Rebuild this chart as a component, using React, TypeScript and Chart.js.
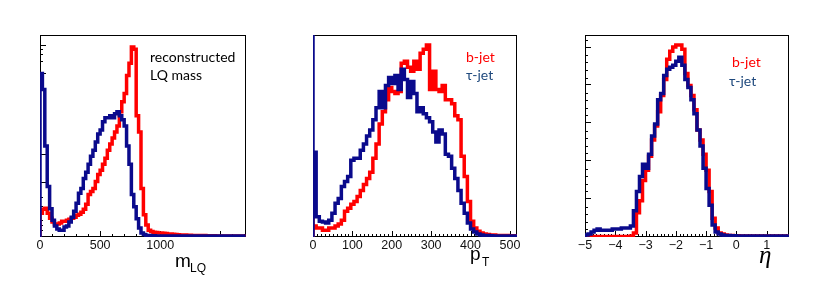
import React, { useEffect, useRef } from 'react';
import { Chart, registerables } from 'chart.js';

Chart.register(...registerables);

// ---------- data ----------
// reconstructed LQ mass, bins of 20 starting at 0
const massStart = 0;
const massBinWidth = 20;
const massRed = [
  0.044, 0.118, 0.137, 0.142, 0.118, 0.093, 0.074, 0.064, 0.064, 0.069,
  0.078, 0.078, 0.083, 0.088, 0.093, 0.098, 0.108, 0.113, 0.123, 0.137,
  0.162, 0.21, 0.225, 0.24, 0.275, 0.31, 0.33, 0.36, 0.39, 0.43,
  0.46, 0.49, 0.52, 0.55, 0.62, 0.67, 0.71, 0.8, 0.86, 0.94,
  0.93, 0.6, 0.52, 0.24, 0.11, 0.06, 0.034, 0.027, 0.024, 0.022,
  0.02, 0.02, 0.018, 0.017, 0.015, 0.015, 0.013, 0.012, 0.011, 0.01,
  0.01, 0.01, 0.009, 0.009, 0.008, 0.008, 0.008, 0.007, 0.007, 0.007,
  0.006, 0.006, 0.006, 0.006, 0.005, 0.005, 0.005, 0.005, 0.005, 0.005,
  0.005, 0.005, 0.005, 0.005, 0.005, 0.005,
];
const massBlue = [
  0.81, 0.81, 0.73, 0.45, 0.25, 0.14, 0.083, 0.054, 0.04, 0.034,
  0.034, 0.049, 0.054, 0.074, 0.098, 0.127, 0.167, 0.216, 0.24, 0.29,
  0.32, 0.36, 0.4, 0.43, 0.47, 0.51, 0.53, 0.57, 0.59, 0.59,
  0.6, 0.59, 0.61, 0.62, 0.6, 0.58, 0.55, 0.45, 0.36, 0.21,
  0.15, 0.09, 0.044, 0.02, 0.012, 0.008, 0.007, 0.006, 0.006, 0.005,
  0.005, 0.005, 0.005, 0.005, 0.005, 0.005, 0.005, 0.005, 0.005, 0.005,
  0.005, 0.005, 0.005, 0.005, 0.005, 0.005, 0.005, 0.005, 0.005, 0.005,
  0.005, 0.005, 0.005, 0.005, 0.005, 0.005, 0.005, 0.005, 0.005, 0.005,
  0.005, 0.005, 0.005, 0.005, 0.005, 0.005,
];
const massTickLabels = [0, 500, 1000];
const massMajorTicks = [0, 500, 1000, 1500];
const massMinorTicks = [100, 200, 300, 400, 600, 700, 800, 900, 1100, 1200, 1300, 1400, 1600, 1700];
const massYMajor = [0.27, 0.41, 0.81, 0.95];
const massYMinor = [0.035, 0.06, 0.085, 0.12, 0.155, 0.2, 0.87, 0.905, 0.93];

// pT, bins of 8 starting at 0
const ptStart = 0;
const ptBinWidth = 8;
const ptRed = [
  0.42, 0.054, 0.044, 0.044, 0.034, 0.034, 0.044, 0.044, 0.054, 0.064,
  0.083, 0.127, 0.142, 0.162, 0.176, 0.2, 0.23, 0.26, 0.29, 0.32,
  0.39, 0.46, 0.56, 0.62, 0.68, 0.74, 0.72, 0.71, 0.72, 0.86,
  0.87, 0.84, 0.82, 0.87, 0.83, 0.91, 0.93, 0.95, 0.73, 0.82,
  0.73, 0.72, 0.75, 0.68, 0.68, 0.66, 0.6, 0.58, 0.4, 0.3,
  0.176, 0.078, 0.044, 0.029, 0.02, 0.015, 0.012, 0.01, 0.01, 0.008,
  0.008, 0.007, 0.007, 0.006, 0.006,
];
const ptBlue = [
  1.5, 0.42, 0.1, 0.078, 0.074, 0.069, 0.083, 0.118, 0.167, 0.19,
  0.25, 0.275, 0.3, 0.38, 0.39, 0.39, 0.43, 0.46, 0.5, 0.53,
  0.58, 0.64, 0.72, 0.64, 0.75, 0.79, 0.76, 0.8, 0.73, 0.83,
  0.78, 0.69, 0.77, 0.71, 0.62, 0.64, 0.61, 0.59, 0.57, 0.52,
  0.47, 0.53, 0.51, 0.41, 0.4, 0.34, 0.29, 0.23, 0.167, 0.118,
  0.069, 0.039, 0.025, 0.015, 0.01, 0.008, 0.007, 0.006, 0.005, 0.005,
  0.005, 0.005, 0.005, 0.005, 0.005,
];
const ptTickLabels = [0, 100, 200, 300, 400, 500];
const ptMajorTicks = [0, 100, 200, 300, 400, 500];
const ptMinorTicks = [
  10, 20, 30, 40, 50, 60, 70, 80, 90, 110, 120, 130, 140, 150, 160, 170, 180, 190,
  210, 220, 230, 240, 250, 260, 270, 280, 290, 310, 320, 330, 340, 350, 360, 370, 380, 390,
  410, 420, 430, 440, 450, 460, 470, 480, 490, 510,
];

// eta, bins of 0.1 starting at -5
const etaStart = -5;
const etaBinWidth = 0.1;
const etaRed = [
  0.003, 0.003, 0.003, 0.003, 0.003, 0.003, 0.003, 0.003, 0.003, 0.003,
  0.003, 0.003, 0.003, 0.003, 0.003, 0.003, 0.005, 0.02, 0.12, 0.18,
  0.28, 0.33, 0.4, 0.48, 0.55, 0.62, 0.7, 0.78, 0.88, 0.92,
  0.94, 0.95, 0.95, 0.93, 0.81, 0.75, 0.7, 0.63, 0.53, 0.48,
  0.41, 0.33, 0.225, 0.093, 0.044, 0.02, 0.015, 0.01, 0.008, 0.007,
  0.006, 0.006, 0.005, 0.005, 0.005, 0.005, 0.005, 0.005, 0.005, 0.005,
  0.005, 0.005, 0.005, 0.005, 0.005, 0.005, 0.005, 0.005,
];
const etaBlue = [
  0.005, 0.01, 0.015, 0.025, 0.034, 0.039, 0.034, 0.034, 0.034, 0.034,
  0.039, 0.039, 0.039, 0.044, 0.044, 0.044, 0.054, 0.13, 0.225, 0.3,
  0.36, 0.34, 0.41, 0.5, 0.56, 0.68, 0.71, 0.8, 0.83, 0.84,
  0.85, 0.87, 0.89, 0.85, 0.78, 0.74, 0.68, 0.61, 0.53, 0.45,
  0.34, 0.24, 0.157, 0.059, 0.025, 0.015, 0.01, 0.008, 0.007, 0.006,
  0.006, 0.005, 0.005, 0.005, 0.005, 0.005, 0.005, 0.005, 0.005, 0.005,
  0.005, 0.005, 0.005, 0.005, 0.005, 0.005, 0.005, 0.005,
];
const etaTickLabels = [-5, -4, -3, -2, -1, 0, 1];
const etaMajorTicks = [-5, -4, -3, -2, -1, 0, 1];
const etaMinorStep = 0.125;
const etaYMajor = [0.191, 0.379, 0.567, 0.755, 0.943];
const etaYMinorStep = 0.0376;

// ---------- styles ----------
const RED = '#ff0000';
const BLUE = '#0a0a8c';
const TAU_TEXT = '#1f497d';
const NOTE_FONT = "14px Lato, 'Open Sans', sans-serif";
const LINE_W = 3.5;

type Note = { text: string; x: number; y: number; color: string };
type Panel = {
  left: number;
  width: number;
  padLeft: number;
  padRight: number;
  xMin: number;
  xMax: number;
  start: number;
  binWidth: number;
  red: number[];
  blue: number[];
  labels: number[];
  majorX: number[];
  minorX: number[];
  majorY: number[];
  minorY: number[];
  notes: Note[];
  title: (ctx: CanvasRenderingContext2D, ox: number) => void;
};

function steps(start: number, width: number, values: number[]) {
  const pts = [{ x: start, y: 0 }];
  values.forEach((v, i) => pts.push({ x: start + i * width, y: v }));
  pts.push({ x: start + values.length * width, y: values[values.length - 1] });
  return pts;
}

function range(from: number, to: number, step: number) {
  const out: number[] = [];
  for (let v = from; v <= to + 1e-9; v += step) out.push(+v.toFixed(4));
  return out;
}

const etaMinorX = range(-5, 1.75, etaMinorStep).filter((v) => Math.abs(v - Math.round(v)) > 1e-6);
const etaMinorY = range(etaYMinorStep, 0.98, etaYMinorStep).filter(
  (v) => !etaYMajor.some((m) => Math.abs(m - v) < 0.01)
);

const panels: Panel[] = [
  {
    left: 0, width: 280, padLeft: 40, padRight: 34.4,
    xMin: 0, xMax: 1710, start: massStart, binWidth: massBinWidth,
    red: massRed, blue: massBlue, labels: massTickLabels,
    majorX: massMajorTicks, minorX: massMinorTicks, majorY: massYMajor, minorY: massYMinor,
    notes: [
      { text: 'reconstructed', x: 150, y: 61.5, color: '#000' },
      { text: 'LQ mass', x: 150, y: 79.5, color: '#000' },
    ],
    title: (ctx, ox) => {
      ctx.fillStyle = '#000';
      ctx.font = "19px 'Liberation Sans', Arial, sans-serif";
      ctx.fillText('m', 175 - ox, 266.5);
      ctx.font = "12px 'Liberation Sans', Arial, sans-serif";
      ctx.fillText('LQ', 190 - ox, 271.5);
    },
  },
  {
    left: 280, width: 280, padLeft: 33, padRight: 43,
    xMin: 0, xMax: 518, start: ptStart, binWidth: ptBinWidth,
    red: ptRed, blue: ptBlue, labels: ptTickLabels,
    majorX: ptMajorTicks, minorX: ptMinorTicks, majorY: [], minorY: [],
    notes: [
      { text: 'b-jet', x: 466, y: 61.5, color: RED },
      { text: '\u03c4-jet', x: 466, y: 80, color: TAU_TEXT },
    ],
    title: (ctx, ox) => {
      ctx.fillStyle = '#000';
      ctx.font = "19px 'Liberation Sans', Arial, sans-serif";
      ctx.fillText('p', 470 - ox, 260);
      ctx.font = "12px 'Liberation Sans', Arial, sans-serif";
      ctx.fillText('T', 482 - ox, 266);
    },
  },
  {
    left: 560, width: 270, padLeft: 25, padRight: 41,
    xMin: -5, xMax: 1.74, start: etaStart, binWidth: etaBinWidth,
    red: etaRed, blue: etaBlue, labels: etaTickLabels,
    majorX: etaMajorTicks, minorX: etaMinorX, majorY: etaYMajor, minorY: etaMinorY,
    notes: [
      { text: 'b-jet', x: 732, y: 67, color: RED },
      { text: '\u03c4-jet', x: 729, y: 86, color: TAU_TEXT },
    ],
    title: (ctx, ox) => {
      ctx.fillStyle = '#000';
      ctx.font = "italic 25px 'Liberation Serif', 'DejaVu Serif', serif";
      ctx.fillText('\u03b7', 759 - ox, 263);
    },
  },
];

function makeFramePlugin(p: Panel) {
  return {
    id: 'rootFrame',
    beforeDatasetsDraw(chart: any) {
      const { ctx, chartArea } = chart;
      const xs = chart.scales.x;
      const ys = chart.scales.y;
      const { left, right, top, bottom } = chartArea;
      ctx.save();
      ctx.strokeStyle = '#000';
      ctx.lineWidth = 1;
      ctx.beginPath();
      const tick = (x1: number, y1: number, x2: number, y2: number) => {
        ctx.moveTo(x1, y1);
        ctx.lineTo(x2, y2);
      };
      p.majorX.forEach((v) => {
        const x = Math.round(xs.getPixelForValue(v)) + 0.5;
        if (x > left && x < right) tick(x, bottom, x, bottom - 6);
      });
      p.minorX.forEach((v) => {
        const x = Math.round(xs.getPixelForValue(v)) + 0.5;
        if (x > left && x < right) tick(x, bottom, x, bottom - 3);
      });
      p.majorY.forEach((v) => {
        const y = Math.round(ys.getPixelForValue(v)) + 0.5;
        tick(left, y, left + 6, y);
      });
      p.minorY.forEach((v) => {
        const y = Math.round(ys.getPixelForValue(v)) + 0.5;
        tick(left, y, left + 3, y);
      });
      ctx.stroke();
      ctx.strokeRect(Math.round(left) + 0.5, Math.round(top) + 0.5, Math.round(right - left) - 1, Math.round(bottom - top) - 1);
      ctx.restore();
    },
    afterDraw(chart: any) {
      const { ctx } = chart;
      ctx.save();
      ctx.textBaseline = 'alphabetic';
      ctx.textAlign = 'left';
      ctx.font = NOTE_FONT;
      p.notes.forEach((n) => {
        ctx.fillStyle = n.color;
        ctx.fillText(n.text, n.x - p.left, n.y);
      });
      p.title(ctx, p.left);
      ctx.restore();
    },
  };
}

function fmt(v: number) {
  return v < 0 ? '\u2212' + Math.abs(v) : String(v);
}

function PanelChart({ p }: { p: Panel }) {
  const ref = useRef<HTMLCanvasElement>(null);
  useEffect(() => {
    if (!ref.current) return;
    const chart = new Chart(ref.current, {
      type: 'line',
      data: {
        datasets: [
          {
            label: 'tau-jet',
            data: steps(p.start, p.binWidth, p.blue),
            borderColor: BLUE,
            borderWidth: LINE_W,
            pointRadius: 0,
            stepped: 'after',
            fill: false,
            clip: 0,
          } as any,
          {
            label: 'b-jet',
            data: steps(p.start, p.binWidth, p.red),
            borderColor: RED,
            borderWidth: LINE_W,
            pointRadius: 0,
            stepped: 'after',
            fill: false,
            clip: 0,
          } as any,
        ],
      },
      options: {
        animation: false,
        responsive: false,
        maintainAspectRatio: false,
        events: [],
        parsing: false,
        layout: { padding: { left: p.padLeft, right: p.padRight, top: 35, bottom: 40 } },
        plugins: { legend: { display: false }, tooltip: { enabled: false }, title: { display: false } },
        scales: {
          x: {
            type: 'linear',
            min: p.xMin,
            max: p.xMax,
            grid: { display: false, drawTicks: false, tickLength: 0 },
            border: { display: false },
            ticks: {
              autoSkip: false,
              maxRotation: 0,
              padding: 1,
              color: '#111',
              font: { family: "'Liberation Sans', Arial, sans-serif", size: 12.5 },
              callback: (v: any) => fmt(Number(v)),
            },
            afterBuildTicks: (axis: any) => {
              axis.ticks = p.labels.map((v) => ({ value: v }));
            },
          },
          y: { display: false, min: 0, max: 1 },
        },
      } as any,
      plugins: [makeFramePlugin(p)],
    });
    return () => chart.destroy();
  }, []);
  return (
    <canvas
      ref={ref}
      width={p.width}
      height={294}
      style={{ position: 'absolute', left: p.left, top: 0, width: p.width, height: 294 }}
    />
  );
}

export default function App() {
  return (
    <div style={{ position: 'fixed', left: 0, top: 0, width: 830, height: 294, background: '#fff' }}>
      {panels.map((p, i) => (
        <PanelChart key={i} p={p} />
      ))}
    </div>
  );
}
